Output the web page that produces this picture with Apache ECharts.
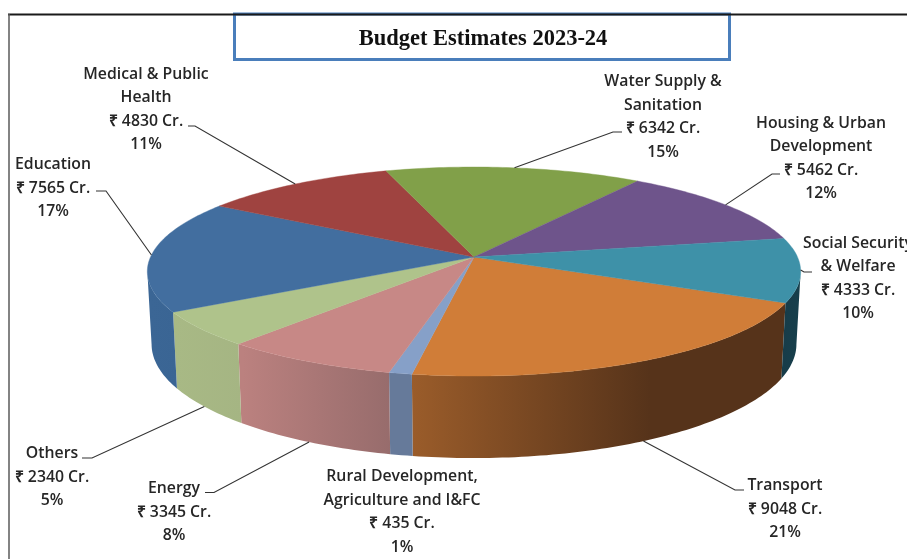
<!DOCTYPE html>
<html><head><meta charset="utf-8">
<style>html,body{margin:0;padding:0;background:#fff}#c{width:907px;height:559px}</style>
<script src="https://cdn.jsdelivr.net/npm/echarts@6/dist/echarts.min.js"></script>
</head><body><div id="c"></div>
<script>
const titleText = 'Budget Estimates 2023-24';
const categories = ['Transport','Rural Development,\nAgriculture and I&FC','Energy','Others','Education','Medical & Public\nHealth','Water Supply &\nSanitation','Housing & Urban\nDevelopment','Social Security\n& Welfare'];
const budgetCrore = [9048,435,3345,2340,7565,4830,6342,5462,4333];

// styling and layout, separate from the data
const topColors = ['#d07d38','#86a0c8','#c78886','#afc38b','#426e9f','#9f4340','#81a049','#6e548b','#3e91a8'];
const sideShades = [
  {x:[413,650],c:['#9a5c2a','#56331a']},
  {x:[391,413],c:['#667a9a','#667a9a']},
  {x:[243,391],c:['#bb817f','#976c6c']},
  {x:[175,243],c:['#a8b985','#a5b583']},
  {x:[150,178],c:['#3b6695','#3a6594']},
  null,
  null,
  null,
  {x:[782,800],c:['#173c49','#173f4c']}
];
const labelCentres = [[785,509],[402,512],[174,512],[52,477],[53,188],[146,109.5],[663,117],[821,158.5],[858,278.5]];
const leaderElbows = [[[735,490],[744,490]],null,[[214,492.5],[205,492.5]],[[92,458],[82,458]],[[106,191],[96,191]],[[195,126],[188,126]],[[613,132],[622,132]],[[772,174],[780,174]],[[804,272],[812,272]]];
const leaderOnBase = [true,false,true,true,false,false,false,false,false];

const firstSliceAngle = 115, cx = 474, cy = 257, radiusX = 323.5, radiusY = 102.5, persp = 0.139;
const baseScale = 0.987, baseY = 328.3, baseStretch = 1.09;
const frontFrom = 98, frontTo = 262;
const total = budgetCrore.reduce((a,b)=>a+b,0);

function project(deg){
  const t = deg*Math.PI/180, u = Math.sin(t), v = -Math.cos(t), w = 1-persp*v;
  return {ox: radiusX*u/w, oy: radiusY*v/w};
}
const topPt = d => { const p = project(d); return [cx+p.ox, cy+p.oy]; };
const basePt = d => { const p = project(d); return [cx+baseScale*p.ox, baseY+baseStretch*p.oy]; };
function arc(fn,a,b){ const pts=[]; const n=Math.max(2,Math.ceil(b-a)); for(let i=0;i<=n;i++) pts.push(fn(a+(b-a)*i/n)); return pts; }

const starts = []; budgetCrore.reduce((acc,v,i)=>{starts[i]=acc;return acc+v/total*360;},firstSliceAngle);

function renderItem(params, api){
  const i = params.dataIndex, val = api.value(0);
  const a = starts[i], b = a+val/total*360, mid = (a+b)/2;
  const shade = sideShades[i], children = [];
  if(shade){
    const wrap = a>=360?360:0;
    const fa = Math.max(a-wrap,frontFrom), fb = Math.min(b-wrap,frontTo);
    const sideFill = {type:'linear',x:shade.x[0],y:0,x2:shade.x[1],y2:0,global:true,
      colorStops:[{offset:0,color:shade.c[0]},{offset:1,color:shade.c[1]}]};
    children.push({type:'polygon',z2:1,shape:{points:arc(topPt,fa,fb).concat(arc(basePt,fa,fb).reverse())},
      style:{fill:sideFill,stroke:null}});
  }
  children.push({type:'polygon',z2:2,shape:{points:[[cx,cy]].concat(arc(topPt,a,b))},
    style:{fill:topColors[i],stroke:topColors[i],lineWidth:0.4}});
  if(leaderElbows[i]){
    const anchor = leaderOnBase[i]?basePt(mid):topPt(mid);
    children.push({type:'polyline',z2:3,shape:{points:[anchor].concat(leaderElbows[i])},
      style:{fill:null,stroke:'#333',lineWidth:1.1}});
  }
  const pct = Math.round(val/total*100);
  children.push({type:'text',z2:4,x:labelCentres[i][0],y:labelCentres[i][1],
    style:{text:categories[i]+'\n₹ '+val+' Cr.\n'+pct+'%',align:'center',verticalAlign:'middle',
      fill:'#262626',font:'600 15.8px "Open Sans", sans-serif',lineHeight:23.4}});
  return {type:'group',children};
}

const chart = echarts.init(document.getElementById('c'),null,{renderer:'canvas'});
chart.setOption({
  animation:false,
  backgroundColor:'#fff',
  title:{text:titleText,left:478,top:23,textAlign:'center',
    textStyle:{fontFamily:'"Liberation Serif",serif',fontWeight:'bold',fontSize:22.5,color:'#111'}},
  graphic:[
    {type:'rect',shape:{x:234.5,y:14,width:495,height:45.5},style:{fill:'none',stroke:'#4a7ebb',lineWidth:3},z:5},
    {type:'line',shape:{x1:8,y1:14.5,x2:907,y2:14.5},style:{stroke:'#1a1a1a',lineWidth:2},z:6},
    {type:'line',shape:{x1:9,y1:14,x2:9,y2:559},style:{stroke:'#5a5a5a',lineWidth:1.5},z:6}
  ],
  series:[{type:'custom',coordinateSystem:'none',renderItem,clip:false,silent:true,
    data:budgetCrore.map(v=>[v])}]
});
</script></body></html>
